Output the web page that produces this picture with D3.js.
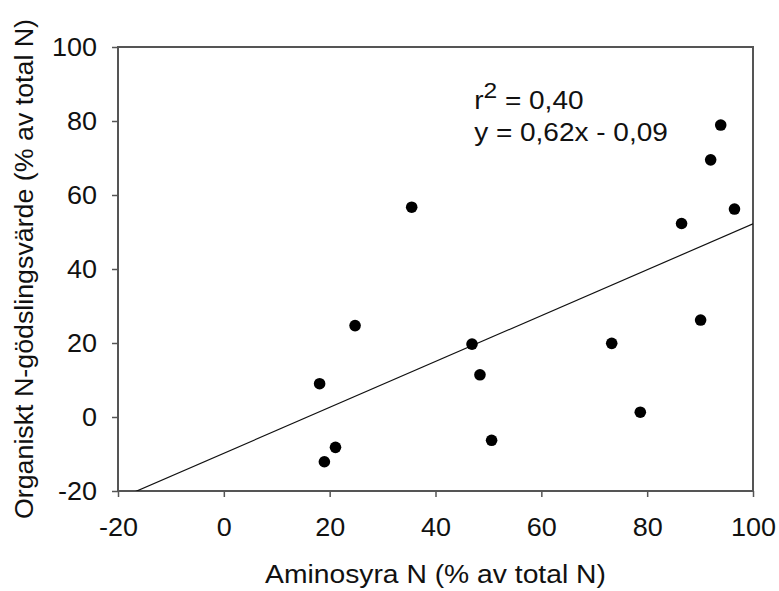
<!DOCTYPE html>
<meta charset="utf-8">
<script src="https://d3js.org/d3.v7.min.js"></script>
<style>
  body { margin: 0; background: #fff; }
  text { font-family: "Liberation Sans", Arial, sans-serif; fill: #111; }
</style>
<div id="chart"></div>
<script>
  // data
  var aminoN = [18.1, 19.0, 21.1, 24.8, 35.5, 46.9, 48.4, 50.6, 73.3, 78.7, 86.5, 90.1, 92.0, 93.9, 96.5];
  var organicN = [9.0, -12.1, -8.2, 24.7, 56.7, 19.7, 11.4, -6.3, 19.9, 1.3, 52.3, 26.2, 69.5, 78.9, 56.2];
  var xTicks = [-20, 0, 20, 40, 60, 80, 100];
  var yTicks = [-20, 0, 20, 40, 60, 80, 100];
  var fitLine = [0.62, -9.8]; // slope, intercept of drawn line
  var statLines = ["= 0,40", "y = 0,62x - 0,09"];

  var W = 779, H = 591;
  var margin = { top: 47, right: 26, bottom: 100, left: 118 },
    width = W - margin.left - margin.right,
    height = H - margin.top - margin.bottom;

  // the original text is a bit wider than Arial, stretch it horizontally
  function stretch(sel, k) {
    sel.each(function () {
      var len = this.getComputedTextLength();
      d3.select(this).attr("textLength", len * k).attr("lengthAdjust", "spacingAndGlyphs");
    });
  }

  var svg = d3.select("#chart").append("svg")
    .attr("width", W).attr("height", H)
    .append("g")
    .attr("transform", "translate(" + margin.left + "," + margin.top + ")");

  var x = d3.scaleLinear().domain([-20, 100]).range([0, width]);
  var y = d3.scaleLinear().domain([-20, 100]).range([height, 0]);

  var axisColor = "#555";
  var fmt = function (d) { return String(d); };

  // x axis
  var gx = svg.append("g")
    .attr("transform", "translate(0," + height + ")")
    .call(d3.axisBottom(x).tickValues(xTicks).tickFormat(fmt).tickSize(6).tickSizeOuter(0).tickPadding(21));
  gx.select(".domain").remove();
  gx.selectAll("line").attr("stroke", axisColor).attr("stroke-width", 1.5);
  gx.selectAll("text").style("font-size", "25px").attr("fill", "#111").call(stretch, 1.08);

  // y axis
  var gy = svg.append("g")
    .call(d3.axisLeft(y).tickValues(yTicks).tickFormat(fmt).tickSize(6).tickSizeOuter(0).tickPadding(15));
  gy.select(".domain").remove();
  gy.selectAll("line").attr("stroke", axisColor).attr("stroke-width", 1.5);
  gy.selectAll("text").style("font-size", "25px").attr("fill", "#111").call(stretch, 1.08);

  // frame
  svg.append("rect")
    .attr("width", width).attr("height", height)
    .attr("fill", "none").attr("stroke", axisColor).attr("stroke-width", 2);

  // clip for regression line
  svg.append("clipPath").attr("id", "plotclip")
    .append("rect").attr("width", width).attr("height", height);

  var xd = x.domain();
  svg.append("line")
    .attr("clip-path", "url(#plotclip)")
    .attr("x1", x(xd[0])).attr("y1", y(fitLine[0] * xd[0] + fitLine[1]))
    .attr("x2", x(xd[1])).attr("y2", y(fitLine[0] * xd[1] + fitLine[1]))
    .attr("stroke", "#111").attr("stroke-width", 1.2);

  // points
  svg.append("g")
    .selectAll("circle")
    .data(aminoN)
    .enter()
    .append("circle")
    .attr("cx", function (d) { return x(d); })
    .attr("cy", function (d, i) { return y(organicN[i]); })
    .attr("r", 5.8)
    .attr("fill", "#000");

  // r2 / equation
  var g1 = svg.append("g")
    .attr("transform", "translate(" + x(47.3) + "," + y(83.2) + ") scale(1.12,1)");
  var ann = g1.append("text").style("font-size", "25px");
  ann.append("tspan").text("r");
  ann.append("tspan").attr("dy", -11).style("font-size", "22px").text("2");
  ann.append("tspan").attr("dy", 11).text(" " + statLines[0]);
  svg.append("g")
    .attr("transform", "translate(" + x(47.3) + "," + y(74.6) + ") scale(1.12,1)")
    .append("text")
    .style("font-size", "25px")
    .text(statLines[1]);

  // axis labels
  svg.append("text")
    .attr("text-anchor", "middle")
    .attr("x", width / 2)
    .attr("y", height + 92)
    .style("font-size", "26px")
    .text("Aminosyra N (% av total N)")
    .call(stretch, 1.087);

  svg.append("text")
    .attr("text-anchor", "middle")
    .attr("transform", "rotate(-90)")
    .attr("x", -height / 2)
    .attr("y", -margin.left + 33)
    .style("font-size", "26px")
    .text("Organiskt N-gödslingsvärde (% av total N)")
    .call(stretch, 1.03);
</script>
